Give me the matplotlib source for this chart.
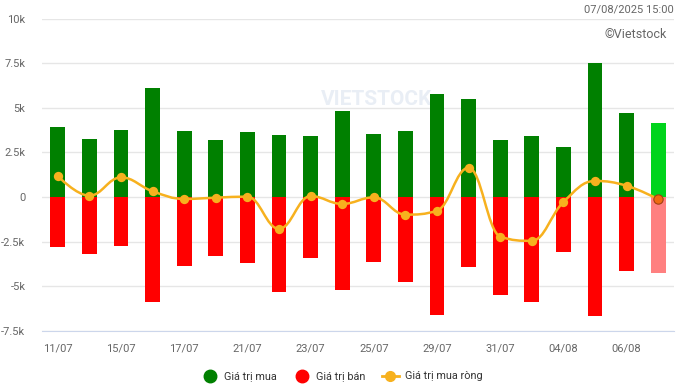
import matplotlib
matplotlib.use("Agg")
import matplotlib.pyplot as plt
import numpy as np
from matplotlib.path import Path
from matplotlib.patches import PathPatch
from matplotlib.lines import Line2D

plt.rcParams['font.family'] = ['Roboto', 'DejaVu Sans']

# Dữ liệu (tỷ đồng)
dates = ["11/07", "14/07", "15/07", "16/07", "17/07", "18/07", "21/07", "22/07",
         "23/07", "24/07", "25/07", "28/07", "29/07", "30/07", "31/07", "01/08",
         "04/08", "05/08", "06/08", "07/08"]
buy = [3920, 3250, 3750, 6100, 3700, 3190, 3640, 3470, 3420, 4820,
       3530, 3700, 5770, 5490, 3190, 3420, 2800, 7500, 4700, 4140]
sell = [-2800, -3190, -2740, -5880, -3860, -3300, -3700, -5320, -3420, -5240,
        -3640, -4760, -6610, -3920, -5490, -5880, -3080, -6660, -4140, -4260]
net = [1180, 70, 1100, 320, -110, -40, 20, -1790, 50, -390,
       -20, -990, -770, 1640, -2220, -2460, -280, 900, 630, -120]
yticks = [-7500, -5000, -2500, 0, 2500, 5000, 7500, 10000]
ytick_labels = ["-7.5k", "-5k", "-2.5k", "0", "2.5k", "5k", "7.5k", "10k"]

GREEN = "#008000"
RED = "#ff0000"
NET = "#f7b11e"


def spline_path(xs, ys, smoothing=1.5):
    # đường cong mượt kiểu Highcharts
    verts = [(xs[0], ys[0])]
    codes = [Path.MOVETO]
    n = len(xs)
    conts = []
    for i in range(n):
        if i == 0 or i == n - 1:
            conts.append(((xs[i], ys[i]), (xs[i], ys[i])))
            continue
        d = smoothing + 1
        lx = (smoothing * xs[i] + xs[i - 1]) / d
        ly = (smoothing * ys[i] + ys[i - 1]) / d
        rx = (smoothing * xs[i] + xs[i + 1]) / d
        ry = (smoothing * ys[i] + ys[i + 1]) / d
        corr = ((ry - ly) * (rx - xs[i])) / (rx - lx) + ys[i] - ry
        ly += corr
        ry += corr
        if ly > ys[i - 1] and ly > ys[i]:
            ly = max(ys[i - 1], ys[i]); ry = 2 * ys[i] - ly
        elif ly < ys[i - 1] and ly < ys[i]:
            ly = min(ys[i - 1], ys[i]); ry = 2 * ys[i] - ly
        if ry > ys[i + 1] and ry > ys[i]:
            ry = max(ys[i + 1], ys[i]); ly = 2 * ys[i] - ry
        elif ry < ys[i + 1] and ry < ys[i]:
            ry = min(ys[i + 1], ys[i]); ly = 2 * ys[i] - ry
        conts.append(((lx, ly), (rx, ry)))
    for i in range(1, n):
        verts += [conts[i - 1][1], conts[i][0], (xs[i], ys[i])]
        codes += [Path.CURVE4] * 3
    return Path(verts, codes)


fig = plt.figure(figsize=(6.77, 3.88), dpi=100)
ax = fig.add_axes([0.062, 0.1477, 0.9336, 0.8041])

x = np.arange(len(dates))
buy_colors = [GREEN] * (len(x) - 1) + ["#00d41c"]
sell_colors = [RED] * (len(x) - 1) + ["#ff8080"]
ax.bar(x, buy, width=0.47, color=buy_colors, zorder=2)
ax.bar(x, sell, width=0.47, color=sell_colors, zorder=2)

ax.add_patch(PathPatch(spline_path(list(x), net), fill=False, edgecolor=NET, lw=1.8, zorder=3))
ax.scatter(x[:-1], net[:-1], s=45, color=NET, zorder=4, linewidths=0)
ax.scatter(x[-1:], net[-1:], s=45, color="#f06a10", edgecolors="#a04010", linewidths=0.8, zorder=4)

ax.set_xlim(-0.5, len(x) - 0.5)
ax.set_ylim(-7500, 10000)
ax.set_yticks(yticks)
ax.set_yticklabels(ytick_labels)
ax.set_xticks(x[::2])
ax.set_xticklabels(dates[::2])
ax.grid(axis="y", color="#e6e6e6", lw=1, zorder=0)
ax.tick_params(axis="both", length=0, labelsize=8, colors="#666666")
ax.tick_params(axis="x", pad=9)
ax.tick_params(axis="y", pad=12)
for s in ["top", "right", "left"]:
    ax.spines[s].set_visible(False)
ax.spines["bottom"].set_color("#ccd6eb")

# watermark
ax.text(0.53, 0.74, "VIETSTOCK", transform=ax.transAxes, ha="center", va="center",
        fontsize=15, fontweight="bold", color="#e9eef5", zorder=1)

fig.text(0.995, 0.975, "07/08/2025 15:00", ha="right", va="center", fontsize=8, color="#666666")
fig.text(0.985, 0.912, "©Vietstock", ha="right", va="center", fontsize=9, color="#666666")

handles = [
    Line2D([], [], marker="o", ls="none", color=GREEN, markersize=9),
    Line2D([], [], marker="o", ls="none", color=RED, markersize=9),
    Line2D([], [], marker="o", color=NET, lw=2, markersize=7),
]
fig.legend(handles, ["Giá trị mua", "Giá trị bán", "Giá trị mua ròng"], loc="center",
           bbox_to_anchor=(0.505, 0.03), ncol=3, frameon=False, fontsize=7.8,
           handlelength=1.6, columnspacing=1.5, handletextpad=0.5,
           labelcolor="#333333")

fig.savefig("out.png", dpi=100)
